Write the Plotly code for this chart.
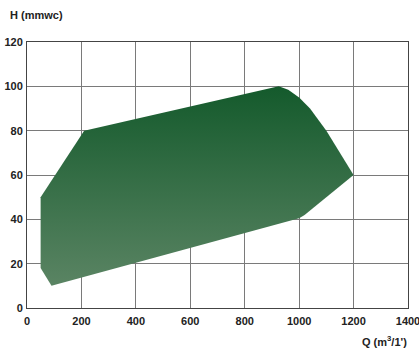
import plotly.graph_objects as go

# operating envelope outline, Q (m3/1') vs H (mmwc)
q_flow = [50, 210, 925, 960, 1000, 1040, 1100, 1200, 1020, 1000, 90, 50, 50]
h_head = [50, 80, 100, 98.5, 95, 90, 80, 60, 42, 40.5, 10, 18, 50]

x_ticks = [0, 200, 400, 600, 800, 1000, 1200, 1400]
y_ticks = [0, 20, 40, 60, 80, 100, 120]

FONT = "Liberation Sans Narrow, Arial Narrow, Liberation Sans, Arial"

fig = go.Figure()
fig.add_trace(
    go.Scatter(
        x=q_flow,
        y=h_head,
        mode="lines",
        line=dict(width=0),
        fill="toself",
        fillgradient=dict(
            type="vertical",
            colorscale=[[0, "#5a8463"], [1, "#145a2c"]],
        ),
        hoverinfo="skip",
        showlegend=False,
    )
)

tick_font = dict(family=FONT, size=11, color="#222222", weight="bold")

fig.update_xaxes(
    range=[0, 1400],
    tickvals=x_ticks,
    showgrid=True, gridcolor="#7a7a7a", gridwidth=1,
    showline=True, linecolor="#444444", linewidth=1, mirror=True,
    zeroline=False, ticks="", ticklen=0, automargin=False,
    ticklabeloverflow="allow", ticklabelstandoff=3,
    tickfont=tick_font,
)
fig.update_yaxes(
    range=[0, 120],
    tickvals=y_ticks,
    showgrid=True, gridcolor="#7a7a7a", gridwidth=1,
    showline=True, linecolor="#444444", linewidth=1, mirror=True,
    zeroline=False, ticks="", ticklen=0, automargin=False,
    ticklabeloverflow="allow", ticklabelstandoff=1,
    tickfont=tick_font,
)

fig.update_layout(
    width=419, height=350,
    margin=dict(l=27, r=11, t=42, b=42),
    paper_bgcolor="white",
    plot_bgcolor="white",
    annotations=[
        dict(text="H (mmwc)", x=0, y=1, xref="paper", yref="paper",
             xanchor="left", yanchor="bottom", xshift=-19, yshift=19,
             showarrow=False,
             font=dict(family=FONT, size=11, color="#222222", weight="bold")),
        dict(text="Q (m<sup>3</sup>/1')", x=1, y=0, xref="paper", yref="paper",
             xanchor="right", yanchor="top", xshift=1, yshift=-24,
             showarrow=False,
             font=dict(family=FONT, size=11, color="#222222", weight="bold")),
    ],
)

# drop the browser's default 8px body margin so the figure fills the window
fig.write_html(
    "out.html",
    config={"displayModeBar": False},
    post_script="document.body.style.margin='0';",
)
